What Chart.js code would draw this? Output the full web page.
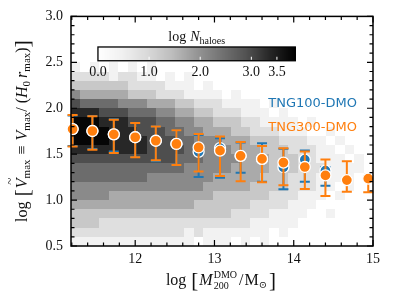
<!DOCTYPE html>
<html>
<head>
<meta charset="utf-8">
<script src="https://cdn.jsdelivr.net/npm/chart.js@4.4.1/dist/chart.umd.min.js"></script>
<style>
  html, body { margin: 0; padding: 0; background: #fff; }
</style>
</head>
<body>
<canvas id="chart" width="394" height="296"></canvas>
<script>
// halo mass bins (log M200) and binned median / 16-84 percentiles
const massBins = [11.21, 11.46, 11.73, 12.0, 12.26, 12.52, 12.8, 13.07, 13.33, 13.6, 13.87, 14.14, 14.4, 14.67, 14.94];

const tng300Med = [1.773, 1.752, 1.716, 1.684, 1.646, 1.611, 1.573, 1.538, 1.482, 1.448, 1.408, 1.360, 1.269, 1.218, 1.233];
const tng300Lo  = [1.584, 1.548, 1.512, 1.466, 1.434, 1.383, 1.310, 1.262, 1.205, 1.193, 1.162, 1.122, 1.045, 1.090, 1.084];
const tng300Hi  = [1.926, 1.912, 1.875, 1.838, 1.802, 1.760, 1.720, 1.692, 1.632, 1.590, 1.563, 1.530, 1.441, 1.423, 1.262];

const tng100Med = [1.773, 1.752, 1.716, 1.684, 1.646, 1.611, 1.525, 1.566, 1.480, 1.445, 1.358, 1.441, 1.320];
const tng100Lo  = [1.590, 1.555, 1.530, 1.470, 1.423, 1.383, 1.251, 1.244, 1.297, 1.200, 1.119, 1.200, 1.155];
const tng100Hi  = [1.920, 1.916, 1.880, 1.838, 1.802, 1.760, 1.709, 1.673, 1.628, 1.620, 1.560, 1.540, 1.360];

const xTicks = [12, 13, 14, 15];
const yTicks = [0.5, 1.0, 1.5, 2.0, 2.5, 3.0];
const cbTicks = [0.0, 1.0, 2.0, 3.0, 3.5];
const cbMax = 3.86;

// 2D histogram, rows from y = 2.4-2.5 (top) down to 0.5-0.6, one char per mass bin
// digit d -> log N = 0.42 d, '.' = empty
const histRows = [
  "1.1.1.1. 1....... ........ ........",
  "22221221 1.1.1... ........ ........",
  "33333322 22111.1. ........ ........",
  "54444433 32221111 .1...... ........",
  "76666555 44433222 1111.1.. ........",
  "88877766 65544332 22111.1. ........",
  "99988877 76655443 33221111 .1......",
  "99998887 77665544 43322211 1..1....",
  "99998888 77766555 44433322 211.1...",
  "88888888 77776655 54443332 2211.1..",
  "77777777 77766655 55444333 22111.1.",
  "66666666 66665555 54444333 2221111.",
  "66666666 55555554 44443332 221111.1",
  "55555555 55555544 44433332 2211.1..",
  "55554444 44444443 33333222 111.1...",
  "44444444 44444333 33322221 11......",
  "33333333 33333333 32222111 1..1....",
  "33322222 22222222 22211111 ........",
  "22222222 22221211 11111.1. ........",
  "11111111 11111.11 1.1.1... ........"
].map(r => r.replace(/ /g, ''));
const histYTop = 2.5, histDy = 0.1;
const histXMin = 11.19, histXMax = 15.0;

const BLUE = '#1f77b4';
const ORANGE = '#ff7f0e';
const SERIF = '"Liberation Serif", "DejaVu Serif", serif';

// matplotlib "Greys"
const greyStops = [255, 240, 217, 189, 150, 115, 82, 37, 0];
function greys(t) {
    t = Math.max(0, Math.min(1, t));
    const f = t * 8;
    const i = Math.min(7, Math.floor(f));
    const g = Math.round(greyStops[i] + (greyStops[i + 1] - greyStops[i]) * (f - i));
    return 'rgb(' + g + ',' + g + ',' + g + ')';
}

function fontFor(p) {
    return (p.it ? 'italic ' : '') + p.s + 'px ' + SERIF;
}

// text with sub/superscripts, centred on (cx, cy)
function drawRich(ctx, parts, cx, cy, rot) {
    ctx.save();
    ctx.translate(cx, cy);
    if (rot) ctx.rotate(rot);
    ctx.textAlign = 'left';
    ctx.textBaseline = 'alphabetic';
    ctx.fillStyle = '#111';
    const widths = parts.map(p => { ctx.font = fontFor(p); return ctx.measureText(p.t).width; });
    let total = 0, held = 0;
    parts.forEach((p, i) => {
        if (p.keep) { held = widths[i]; return; }
        total += Math.max(widths[i], held) + (p.gap || 0);
        held = 0;
    });
    let x = -total / 2;
    held = 0;
    parts.forEach((p, i) => {
        ctx.font = fontFor(p);
        ctx.fillText(p.t, x, (p.dy || 0) + 5);
        if (p.tilde) {
            ctx.font = '13px ' + SERIF;
            ctx.textAlign = 'center';
            ctx.fillText('~', x + widths[i] / 2 + 2, (p.dy || 0) - 8);
            ctx.textAlign = 'left';
        }
        if (p.keep) { held = widths[i]; return; }
        x += Math.max(widths[i], held) + (p.gap || 0);
        held = 0;
    });
    ctx.restore();
}

const xTitle = [
    { t: 'log', s: 16, gap: 5 },
    { t: '[', s: 21, dy: 2, gap: 1 },
    { t: 'M', s: 16, it: true, gap: 1 },
    { t: 'DMO', s: 10, dy: -7, keep: true },
    { t: '200', s: 10, dy: 4, gap: 2 },
    { t: '/', s: 16, gap: 1 },
    { t: 'M', s: 16 },
    { t: '\u2299', s: 10, dy: 3, gap: 2 },
    { t: ']', s: 21, dy: 2 }
];

const yTitle = [
    { t: 'log', s: 16, gap: 5 },
    { t: '[', s: 22, dy: 2, gap: 1 },
    { t: 'V', s: 16, it: true, tilde: true },
    { t: 'max', s: 11, dy: 3, gap: 5 },
    { t: '\u2261', s: 16, gap: 5 },
    { t: 'V', s: 16, it: true },
    { t: 'max', s: 11, dy: 3 },
    { t: '/', s: 16, gap: 4 },
    { t: '(', s: 16 },
    { t: 'H', s: 16, it: true },
    { t: '0', s: 11, dy: 3, gap: 3 },
    { t: 'r', s: 16, it: true },
    { t: 'max', s: 11, dy: 3 },
    { t: ')', s: 16 },
    { t: ']', s: 22, dy: 2 }
];

// heatmap under everything
const heatmapPlugin = {
    id: 'heatmap',
    beforeDatasetsDraw(chart) {
        const { ctx, chartArea: a, scales: { x, y } } = chart;
        const nx = histRows[0].length;
        const dx = (histXMax - histXMin) / nx;
        ctx.save();
        ctx.beginPath();
        ctx.rect(a.left, a.top, a.right - a.left, a.bottom - a.top);
        ctx.clip();
        histRows.forEach((row, r) => {
            const yHi = histYTop - r * histDy;
            const py1 = Math.round(y.getPixelForValue(yHi));
            const py0 = Math.round(y.getPixelForValue(yHi - histDy));
            for (let c = 0; c < nx; c++) {
                const ch = row[c];
                if (ch === '.') continue;
                const logN = Number(ch) * 0.42;
                const px0 = Math.round(x.getPixelForValue(histXMin + c * dx));
                const px1 = Math.round(x.getPixelForValue(histXMin + (c + 1) * dx));
                ctx.fillStyle = greys(logN / cbMax);
                ctx.fillRect(px0, py1, px1 - px0, py0 - py1);
            }
        });
        ctx.restore();
    }
};

// error bars drawn just before each dataset's markers
const errorBarPlugin = {
    id: 'errorbars',
    beforeDatasetDraw(chart, args) {
        const ds = chart.data.datasets[args.index];
        if (!ds.lo) return;
        const { ctx, scales: { x, y } } = chart;
        ctx.save();
        ctx.strokeStyle = ds.backgroundColor;
        ctx.lineWidth = 2;
        ds.data.forEach((pt, i) => {
            const px = x.getPixelForValue(pt.x);
            const pLo = y.getPixelForValue(ds.lo[i]);
            const pHi = y.getPixelForValue(ds.hi[i]);
            ctx.beginPath();
            ctx.moveTo(px, pLo); ctx.lineTo(px, pHi);
            ctx.moveTo(px - 5, pLo); ctx.lineTo(px + 5, pLo);
            ctx.moveTo(px - 5, pHi); ctx.lineTo(px + 5, pHi);
            ctx.stroke();
        });
        ctx.restore();
    }
};

// frame, inward ticks, colorbar, labels
const decorPlugin = {
    id: 'decor',
    afterDatasetsDraw(chart) {
        const { ctx, chartArea: a, scales: { x, y } } = chart;
        ctx.save();

        // colorbar
        const cb = { x0: 11.53, x1: 14.02, y0: 2.517, y1: 2.667 };
        const cx0 = x.getPixelForValue(cb.x0), cx1 = x.getPixelForValue(cb.x1);
        const cyTop = y.getPixelForValue(cb.y1), cyBot = y.getPixelForValue(cb.y0);
        for (let px = Math.floor(cx0); px < cx1; px++) {
            ctx.fillStyle = greys((px + 0.5 - cx0) / (cx1 - cx0));
            ctx.fillRect(px, cyTop, 1, cyBot - cyTop);
        }
        ctx.strokeStyle = '#000';
        ctx.lineWidth = 1.3;
        ctx.strokeRect(cx0, cyTop, cx1 - cx0, cyBot - cyTop);
        ctx.strokeStyle = '#fff';
        ctx.lineWidth = 1;
        ctx.font = '14px ' + SERIF;
        ctx.textAlign = 'center';
        ctx.textBaseline = 'top';
        cbTicks.forEach(v => {
            const px = cx0 + (v / cbMax) * (cx1 - cx0);
            if (v > 0) {
                ctx.beginPath();
                ctx.moveTo(px, cyBot - 1); ctx.lineTo(px, cyBot - 4);
                ctx.stroke();
            }
            ctx.fillStyle = '#111';
            ctx.fillText(v.toFixed(1), px, cyBot + 5);
        });
        drawRich(ctx, [
            { t: 'log', s: 14, gap: 4 },
            { t: 'N', s: 14, it: true },
            { t: 'haloes', s: 10, dy: 3 }
        ], (cx0 + cx1) / 2, cyTop - 11, 0);

        // series labels
        ctx.font = '13px "DejaVu Sans", sans-serif';
        ctx.textAlign = 'right';
        ctx.textBaseline = 'middle';
        ctx.fillStyle = BLUE;
        ctx.fillText('TNG100-DMO', a.right - 16, a.top + 87);
        ctx.fillStyle = ORANGE;
        ctx.fillText('TNG300-DMO', a.right - 16, a.top + 111);

        // frame
        ctx.strokeStyle = '#000';
        ctx.lineWidth = 1.5;
        ctx.strokeRect(a.left, a.top, a.right - a.left, a.bottom - a.top);

        // inward ticks on all four sides
        ctx.lineWidth = 1.2;
        ctx.beginPath();
        for (let k = 0; k <= 19; k++) {
            const v = Math.round((11.2 + 0.2 * k) * 10) / 10;
            if (v < x.min || v > x.max) continue;
            const major = xTicks.includes(v);
            const len = major ? 6 : 3.5;
            const px = x.getPixelForValue(v);
            ctx.moveTo(px, a.bottom); ctx.lineTo(px, a.bottom - len);
            ctx.moveTo(px, a.top); ctx.lineTo(px, a.top + len);
        }
        for (let k = 0; k <= 25; k++) {
            const v = Math.round((0.5 + 0.1 * k) * 10) / 10;
            const major = yTicks.includes(v);
            const len = major ? 6 : 3.5;
            const py = y.getPixelForValue(v);
            ctx.moveTo(a.left, py); ctx.lineTo(a.left + len, py);
            ctx.moveTo(a.right, py); ctx.lineTo(a.right - len, py);
        }
        ctx.stroke();

        // axis titles
        drawRich(ctx, xTitle, 221, 280, 0);
        drawRich(ctx, yTitle, 22, 131, -Math.PI / 2);

        ctx.restore();
    }
};

const ctxMain = document.getElementById('chart').getContext('2d');
new Chart(ctxMain, {
    type: 'scatter',
    data: {
        datasets: [
            {
                label: 'TNG300-DMO',
                data: massBins.map((m, i) => ({ x: m, y: tng300Med[i] })),
                lo: tng300Lo,
                hi: tng300Hi,
                backgroundColor: ORANGE,
                borderColor: '#fff',
                borderWidth: 1.3,
                pointRadius: 5.5,
                clip: false
            },
            {
                label: 'TNG100-DMO',
                data: massBins.slice(0, tng100Med.length).map((m, i) => ({ x: m, y: tng100Med[i] })),
                lo: tng100Lo,
                hi: tng100Hi,
                backgroundColor: BLUE,
                borderColor: '#fff',
                borderWidth: 1.3,
                pointRadius: 5.5,
                clip: false
            }
        ]
    },
    options: {
        responsive: false,
        animation: false,
        devicePixelRatio: 1,
        layout: { padding: { top: 13, right: 21, left: 0, bottom: 0 } },
        plugins: { legend: { display: false }, tooltip: { enabled: false } },
        scales: {
            x: {
                type: 'linear',
                min: histXMin,
                max: histXMax,
                afterFit: s => { s.height = 50; },
                afterBuildTicks: s => { s.ticks = xTicks.map(v => ({ value: v })); },
                grid: { display: false, drawTicks: false },
                border: { display: false },
                ticks: {
                    font: { family: SERIF, size: 14 },
                    color: '#111',
                    padding: 5,
                    maxRotation: 0,
                    callback: v => String(v)
                }
            },
            y: {
                type: 'linear',
                min: 0.5,
                max: 3.0,
                afterFit: s => { s.width = 71; },
                afterBuildTicks: s => { s.ticks = yTicks.map(v => ({ value: v })); },
                grid: { display: false, drawTicks: false },
                border: { display: false },
                ticks: {
                    font: { family: SERIF, size: 14 },
                    color: '#111',
                    padding: 8,
                    callback: v => v.toFixed(1)
                }
            }
        }
    },
    plugins: [heatmapPlugin, errorBarPlugin, decorPlugin]
});
</script>
</body>
</html>
